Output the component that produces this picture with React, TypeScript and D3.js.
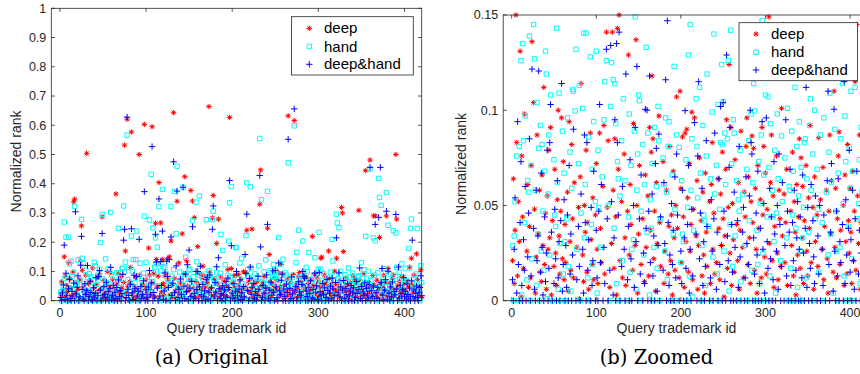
import React from 'react';
import * as d3 from 'd3';

// ---- data: normalized rank per query trademark id (1..420) ----
const deep = [
.021,.064,.009,.037,.15,.083,.013,.052,.031,.131,.002,.076,.044,.017,.098,.338,.347,.026,.061,.007,
.039,.012,.071,.136,.256,.104,.048,.004,.023,.087,.504,.035,.058,.015,.01,.066,.029,.112,.019,.046,
.006,.055,.027,.079,.033,.091,.003,.042,.287,.018,.069,.025,.008,.053,.1,.034,.014,.047,.096,.022,
.073,.011,.04,.02,.365,.057,.005,.094,.031,.016,.082,.043,.012,.062,.532,.17,.028,.621,.049,.001,
.065,.114,.577,.024,.01,.05,.036,.079,.015,.041,.006,.5,.088,.032,.019,.054,.011,.603,.045,.072,
.027,.009,.18,.088,.038,.02,.595,.06,.092,.014,.265,.141,.049,.084,.404,.007,.266,.03,.141,.058,
.017,.085,.044,.003,.143,.069,.15,.021,.204,.052,.012,.643,.077,.033,.008,.34,.047,.129,.024,.061,
.04,.229,.016,.093,.424,.029,.137,.05,.004,.035,.071,.377,.019,.341,.043,.284,.01,.066,.028,.185,
.055,.013,.091,.037,.078,.118,.085,.022,.047,.005,.062,.03,.664,.097,.041,.018,.283,.36,.073,.009,
.026,.196,.058,.279,.014,.039,.081,.021,.045,.003,.068,.033,.016,.05,.107,.038,.627,.012,.11,.059,
.02,.086,.044,.007,.088,.031,.09,.054,.015,.072,.026,.04,.099,.011,.048,.096,.241,.034,.063,.006,
.029,.075,.245,.042,.013,.057,.024,.004,.067,.036,.018,.33,.447,.052,.009,.061,.083,.027,.046,.014,
.248,.02,.158,.064,.038,.011,.056,.029,.078,.043,.002,.034,.069,.095,.017,.049,.124,.025,.091,.008,
.051,.032,.015,.074,.632,.04,.021,.062,.006,.037,.089,.616,.028,.012,.057,.044,.081,.096,.019,.065,
.033,.009,.052,.0865,.041,.08,.016,.059,.027,.004,.071,.038,.22,.053,.012,.091,.045,.081,.023,.067,
.014,.048,.145,.149,.03,.062,.087,.021,.055,.007,.039,.17,.076,.025,.011,.058,.043,.018,.101,.034,
.145,.056,.02,.041,.069,.008,.319,.3,.168,.047,.029,.078,.013,.052,.036,.003,.061,.024,.044,.085,
.017,.075,.033,.06,.009,.042,.309,.071,.026,.013,.054,.038,.092,.02,.445,.049,.006,.065,.031,.481,
.045,.018,.0856,.29,.053,.29,.027,.07,.011,.039,.216,.058,.022,.004,.047,.087,.035,.063,.29,.015,
.11,.028,.059,.012,.043,.076,.0886,.019,.037,.5,.279,.05,.008,.066,.031,.014,.082,.042,.025,.059,
.036,.009,.068,.021,.047,.115,.016,.145,.055,.03,.087,.006,.041,.16,.072,.019,.049,.027,.106,.011,
];

const hand = [
.029,0,.034,.052,.269,.076,.217,0,.081,.217,.126,.003,.135,.084,.041,.097,.322,.011,.063,.057,
.139,0,.071,.022,.278,.145,.127,.058,.008,.104,.035,.08,0,.092,.026,.082,.047,.016,.068,.131,
.119,.001,.056,.087,.024,.108,.199,0,.295,.074,.045,.039,.143,.062,.006,.109,.03,0,.302,.089,
.014,.067,.031,0,.043,.096,.018,.247,.078,.005,.059,.111,.11,.324,.0996,.132,.027,.566,.072,.113,
0,.046,.221,.101,.1405,.033,.061,.1405,.238,.012,.086,0,.128,.04,.069,.019,.094,.289,.052,.131,
.004,.079,.049,.276,.028,.432,.065,.249,.095,.115,.215,.126,.183,.05,.322,0,.102,.125,.381,.116,
.038,.114,.093,.009,.073,.064,0,.055,.322,.084,.021,.106,.374,.063,.229,.46,0,.044,.098,.015,
.071,.027,.388,.032,.089,.149,.006,.058,.077,.108,.105,0,.047,.273,.082,.024,.061,.337,.133,.036,
.088,.358,.003,.053,.038,.072,0,.028,.091,.277,.06,.017,.102,.084,0,.043,.277,.306,.075,.061,
.026,.096,.057,.011,.081,.094,.227,0,.172,.066,.035,.123,.048,0,.087,.204,.335,.0805,.39,.02,
.063,.035,.031,.182,.182,.074,0,.049,.129,.013,.145,.058,.085,.002,.037,.223,.403,.106,.081,.054,
.39,.112,.067,0,.029,.092,.045,.042,.008,.076,.119,.555,.039,.345,.064,0,.099,.023,.14,.056,
.374,.071,.014,.103,0,.048,.083,.124,.082,.1045,.026,.088,.061,.216,.085,.126,.005,.04,.142,.072,
.018,.095,.088,.034,.472,.063,0,.053,.047,.079,.01,.598,.056,.13,.165,.029,.241,.069,0,.084,
.042,.204,.098,.016,.062,.114,.0996,0,.165,.037,.019,.073,.009,.051,.087,.147,.025,.066,0,.108,
.234,.044,.107,.07,.013,.093,0,.058,.044,.031,.079,.004,.046,.098,.064,.21,.136,.021,.0865,.052,
.296,.266,.075,.25,.033,.101,0,.06,.058,.017,.089,.045,.068,0,.112,.038,.081,.007,.055,.094,
.026,.07,0,.033,.049,.083,.085,.012,.064,.13,.036,.092,.106,.058,.22,.077,0,.1,.043,.45,
.069,.048,.015,.215,.087,.205,.041,0,.096,.418,.353,.057,.326,.024,.078,.109,.035,.062,.37,.004,
.258,.09,.047,.026,0,.067,.24,.028,.085,.232,.114,.051,.013,.097,.073,0,.126,.039,.08,.059,
.11,.022,.068,0,.179,.112,.247,.279,.043,.051,.074,.009,.091,.057,.247,.03,.036,0,.12,.062,
];

const deepHand = [
.011,0,.027,.054,.19,.004,.094,.019,0,.041,.073,.008,0,.032,.016,.06,0,.304,.023,.046,
.085,0,.013,.1216,.22,.038,.006,0,.058,.021,.034,.1206,0,.015,.067,.028,.003,0,.044,.01,
.025,.079,0,.017,.083,.103,.036,0,.23,.009,.048,.022,0,.063,.012,.031,0,.042,.114,.005,
.019,.053,0,.029,.007,.045,0,.071,.014,.035,0,.024,.09,.207,.244,0,.011,.628,.039,.018,
0,.056,.246,.027,.004,.087,.041,0,.083,.016,.032,.21,0,.049,.008,.021,.068,.373,0,.037,
.012,0,.047,.103,.02,.061,.527,0,.028,.009,.227,.132,.043,0,.348,.016,.134,.052,.238,.003,
.033,.095,0,.135,.083,.045,.141,0,.218,.018,.06,.475,.027,0,.119,.375,.011,.039,0,.074,
.022,0,.388,.05,.007,.091,.031,.123,0,.173,.043,.014,.066,.253,0,.025,.009,.1005,.038,.1,
0,.047,.118,.02,0,.056,.013,.034,0,.072,.08,.005,.029,.0875,0,.044,.244,.324,.016,.062,
.03,.116,0,.147,.041,.008,.024,0,.051,.019,.037,0,.065,.012,.077,.045,.411,0,.188,.026,
.009,.058,0,.033,.0998,.017,0,.04,.071,.004,.027,0,.048,.013,.158,.0935,.296,.035,0,.076,
.115,.022,.046,0,.059,.008,.031,0,.018,.084,.039,.428,.184,0,.012,.053,.026,0,.043,.088,
.261,.006,.036,0,.064,.019,.102,.029,0,.104,.047,.01,0,.129,.034,.021,.07,.091,0,.04,
.015,0,.057,.028,.552,0,.042,.007,.081,.023,0,.656,.036,.049,0,.012,.065,.03,0,.019,
.055,.1,.083,.077,0,.033,.014,0,.046,.024,.068,0,.009,.038,0,.094,.027,.051,.004,0,
.096,.031,.017,0,.059,.022,.044,0,.011,.073,.035,0,.026,.05,.006,.077,.04,0,.018,.062,
.215,0,.029,.095,.013,.047,0,.036,.069,.008,0,.041,.021,.058,0,.016,.033,.052,0,.027,
.044,0,.012,.066,.025,0,.038,.112,.007,.049,0,.03,.017,.061,0,.042,.023,.009,.055,.456,
0,.034,.014,.05,0,.261,.027,.008,.045,.285,0,.456,.063,.11,.019,0,.036,.072,.306,.005,
.1005,.026,0,.047,.013,.064,0,.031,.02,.295,.04,0,.115,.009,.053,.024,0,.038,.079,.015,
.032,0,.058,.021,.006,.043,0,.068,.207,.014,.037,0,.025,.05,.011,0,.029,.045,.085,.017,
];

const seriesNames = ['deep', 'hand', 'deep&hand'];
const xTicks = [0, 100, 200, 300, 400];
const yTicksOriginal = [0, 0.1, 0.2, 0.3, 0.4, 0.5, 0.6, 0.7, 0.8, 0.9, 1];
const yTickLabelsOriginal = ['0', '0.1', '0.2', '0.3', '0.4', '0.5', '0.6', '0.7', '0.8', '0.9', '1'];
const yTicksZoomed = [0, 0.05, 0.1, 0.15];
const yTickLabelsZoomed = ['0', '0.05', '0.1', '0.15'];
const xLabel = 'Query trademark id';
const yLabel = 'Normalized rank';

const AX = '#262626';
const FONT = '"Liberation Sans", Arial, Helvetica, sans-serif';
const COLORS = ['#ff0000', '#00ffff', '#0000ff'];
const seriesData = [deep, hand, deepHand];

function markerPath(kind: number, x: number, y: number): string {
  if (kind === 0) {
    const r = 2.7, d = 1.9;
    return `M${x - r},${y}h${2 * r}M${x},${y - r}v${2 * r}M${x - d},${y - d}l${2 * d},${2 * d}M${x - d},${y + d}l${2 * d},${-2 * d}`;
  }
  if (kind === 1) {
    const h = 2.2;
    return `M${x - h},${y - h}h${2 * h}v${2 * h}h${-2 * h}Z`;
  }
  const r = 3.2;
  return `M${x - r},${y}h${2 * r}M${x},${y - r}v${2 * r}`;
}

type PanelProps = {
  left: number; right: number; top: number; bottom: number;
  yMax: number; yTicks: number[]; yTickLabels: string[];
  xLabelX: number; yLabelX: number; yLabelY: number;
  caption: string; captionX: number;
  legend: { x0: number; y0: number; x1: number; y1: number; mx: number; tx: number; rows: number[] };
};

function Panel(p: PanelProps) {
  const x = d3.scaleLinear().domain([-10, 420]).range([p.left, p.right]);
  const y = d3.scaleLinear().domain([0, p.yMax]).range([p.bottom, p.top]);
  const tl = 3.6;
  const clipId = `clip-${p.caption.replace(/[^a-z]/gi, '')}`;
  return (
    <g>
      <defs>
        <clipPath id={clipId}>
          <rect x={p.left - 5} y={p.top - 5} width={p.right - p.left + 10} height={p.bottom - p.top + 10} />
        </clipPath>
      </defs>
      {xTicks.map((t) => (
        <g key={'xt' + t}>
          <line x1={x(t)} x2={x(t)} y1={p.bottom} y2={p.bottom - tl} stroke={AX} strokeWidth={0.8} />
          <line x1={x(t)} x2={x(t)} y1={p.top} y2={p.top + tl} stroke={AX} strokeWidth={0.8} />
          <text x={x(t)} y={316.5} textAnchor="middle" fontSize={12.5} fill={AX} fontFamily={FONT}>{t}</text>
        </g>
      ))}
      {p.yTicks.map((t, i) => (
        <g key={'yt' + t}>
          <line x1={p.left} x2={p.left + tl} y1={y(t)} y2={y(t)} stroke={AX} strokeWidth={0.8} />
          <line x1={p.right} x2={p.right - tl} y1={y(t)} y2={y(t)} stroke={AX} strokeWidth={0.8} />
          <text x={p.left - 5} y={y(t) + 4.4} textAnchor="end" fontSize={12.5} fill={AX} fontFamily={FONT}>{p.yTickLabels[i]}</text>
        </g>
      ))}
      <g clipPath={`url(#${clipId})`}>
        {seriesData.map((vals, k) => {
          const d = vals
            .map((v, i) => ({ id: i + 1, v }))
            .filter((pt) => pt.v <= p.yMax + 1e-9)
            .map((pt) => markerPath(k, x(pt.id), y(pt.v)))
            .join('');
          return <path key={'s' + k} d={d} fill="none" stroke={COLORS[k]} strokeWidth={1} />;
        })}
      </g>
      <rect x={p.left} y={p.top} width={p.right - p.left} height={p.bottom - p.top} fill="none" stroke={AX} strokeWidth={0.8} />
      <rect x={p.legend.x0} y={p.legend.y0} width={p.legend.x1 - p.legend.x0} height={p.legend.y1 - p.legend.y0} fill="#ffffff" stroke={AX} strokeWidth={0.8} />
      {seriesNames.map((n, k) => (
        <g key={'lg' + k}>
          <path d={markerPath(k, p.legend.mx, p.legend.rows[k])} fill="none" stroke={COLORS[k]} strokeWidth={1} />
          <text x={p.legend.tx} y={p.legend.rows[k] + 5} fontSize={15} fill="#000" fontFamily={FONT}>{n}</text>
        </g>
      ))}
      <text x={p.xLabelX} y={333} textAnchor="middle" fontSize={14} fill={AX} fontFamily={FONT}>{xLabel}</text>
      <text transform={`translate(${p.yLabelX},${p.yLabelY}) rotate(-90)`} textAnchor="middle" fontSize={14} fill={AX} fontFamily={FONT}>{yLabel}</text>
      <text x={p.captionX} y={364} textAnchor="middle" fontSize={19.5} fill="#000" fontFamily='"DejaVu Serif", serif'>{p.caption}</text>
    </g>
  );
}

export default function App() {
  return (
    <svg width={860} height={374} style={{ position: 'fixed', left: 0, top: 0, background: '#fff' }}>
      <rect x={0} y={0} width={860} height={374} fill="#fff" />
      <Panel
        left={51.3} right={421.7} top={8.3} bottom={300.7}
        yMax={1} yTicks={yTicksOriginal} yTickLabels={yTickLabelsOriginal}
        xLabelX={226.5} yLabelX={21} yLabelY={161.5}
        caption="(a) Original" captionX={211.5}
        legend={{ x0: 291.5, y0: 16.7, x1: 413.3, y1: 75, mx: 309.3, tx: 324, rows: [28.3, 46.5, 64.3] }}
      />
      <Panel
        left={503.2} right={867} top={15} bottom={300.7}
        yMax={0.15} yTicks={yTicksZoomed} yTickLabels={yTickLabelsZoomed}
        xLabelX={676.5} yLabelX={466} yLabelY={164}
        caption="(b) Zoomed" captionX={656.5}
        legend={{ x0: 739, y0: 22.7, x1: 857.5, y1: 80.7, mx: 756, tx: 771, rows: [34, 52.3, 70] }}
      />
    </svg>
  );
}
